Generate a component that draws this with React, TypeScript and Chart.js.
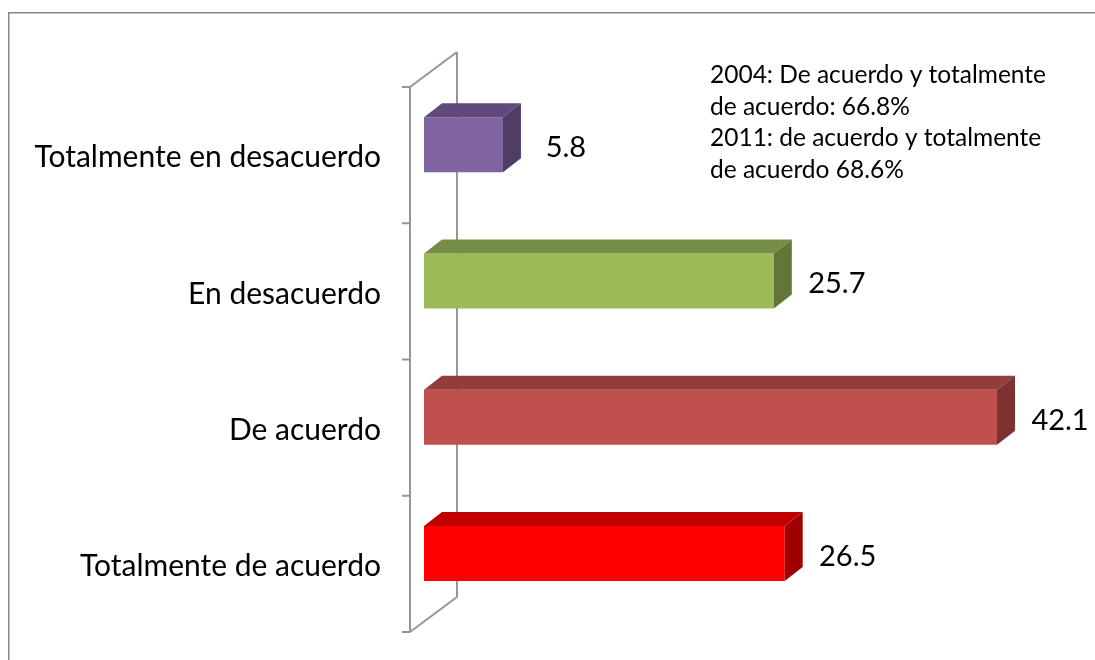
import React, { useEffect, useRef } from "react";
import { Chart, registerables } from "chart.js";

Chart.register(...registerables);

const categories = ["Totalmente en desacuerdo", "En desacuerdo", "De acuerdo", "Totalmente de acuerdo"];
const values = [5.8, 25.7, 42.1, 26.5];
const frontColors = ["#8064A2", "#9BBB59", "#C0504D", "#FF0000"];
const topColors = ["#604A7B", "#758D44", "#923D3B", "#C00000"];
const sideColors = ["#4F3D66", "#627637", "#7B3230", "#A00000"];
const noteLines = [
  "2004: De acuerdo y totalmente",
  "de acuerdo: 66.8%",
  "2011: de acuerdo y totalmente",
  "de acuerdo 68.6%",
];

const FONT = "Lato, 'Open Sans', sans-serif";
const DX = 18;
const DY = -14;

const threeD = {
  id: "threeD",
  beforeDatasetsDraw(chart: any) {
    const ctx = chart.ctx;
    const { left: L, top: T, bottom: B } = chart.chartArea;
    ctx.save();
    ctx.strokeStyle = "#878787";
    ctx.lineWidth = 1.5;
    ctx.beginPath();
    ctx.moveTo(8.75, 700);
    ctx.lineTo(8.75, 12.75);
    ctx.lineTo(1200, 12.75);
    ctx.stroke();
    ctx.strokeStyle = "#969696";
    ctx.lineWidth = 2;
    const fx = L - 14, fT = T + 10.4, fB = B + 10.4;
    const bx = L + 33, bT = T - 24.6, bB = B - 24.6;
    ctx.beginPath();
    ctx.moveTo(fx, fT); ctx.lineTo(fx, fB);
    ctx.moveTo(bx, bT); ctx.lineTo(bx, bB);
    ctx.moveTo(fx, fT); ctx.lineTo(bx, bT);
    ctx.moveTo(fx, fB); ctx.lineTo(bx, bB);
    const n = categories.length;
    for (let i = 0; i <= n; i++) {
      const y = fT + (i * (fB - fT)) / n;
      ctx.moveTo(fx - 8, y); ctx.lineTo(fx, y);
    }
    ctx.stroke();
    ctx.restore();
  },
  afterDatasetsDraw(chart: any) {
    const ctx = chart.ctx;
    const meta = chart.getDatasetMeta(0);
    ctx.save();
    meta.data.forEach((bar: any, i: number) => {
      const { x, y, base, height } = bar.getProps(["x", "y", "base", "height"], true);
      const t = y - height / 2;
      const b = y + height / 2;
      ctx.fillStyle = topColors[i];
      ctx.beginPath();
      ctx.moveTo(base, t);
      ctx.lineTo(base + DX, t + DY);
      ctx.lineTo(x + DX, t + DY);
      ctx.lineTo(x, t);
      ctx.closePath();
      ctx.fill();
      ctx.fillStyle = sideColors[i];
      ctx.beginPath();
      ctx.moveTo(x, t);
      ctx.lineTo(x + DX, t + DY);
      ctx.lineTo(x + DX, b + DY);
      ctx.lineTo(x, b);
      ctx.closePath();
      ctx.fill();
      ctx.fillStyle = "#000";
      ctx.font = `29px ${FONT}`;
      ctx.textAlign = "center";
      ctx.textBaseline = "middle";
      ctx.fillText(String(values[i]), x + 63, y + 3);
    });
    ctx.font = `24.5px ${FONT}`;
    ctx.textAlign = "left";
    ctx.textBaseline = "middle";
    ctx.fillStyle = "#000";
    noteLines.forEach((s, k) => ctx.fillText(s, 710, 75 + k * 31.7));
    ctx.restore();
  },
};

export default function App() {
  const ref = useRef<HTMLCanvasElement>(null);
  useEffect(() => {
    const chart = new Chart(ref.current!, {
      type: "bar",
      data: {
        labels: categories,
        datasets: [
          {
            data: values,
            backgroundColor: frontColors,
            borderWidth: 0,
            categoryPercentage: 1,
            barPercentage: 0.404,
          },
        ],
      },
      options: {
        indexAxis: "y",
        animation: false,
        responsive: false,
        devicePixelRatio: 1,
        layout: { padding: { left: 0, right: 58.5, top: 76.6, bottom: 38.4 } },
        plugins: { legend: { display: false }, tooltip: { enabled: false } },
        scales: {
          x: { display: false, min: 0, max: 45 },
          y: {
            grid: { display: false, drawTicks: false },
            border: { display: false },
            ticks: {
              padding: 43,
              labelOffset: 13,
              color: "#000",
              font: { family: FONT, size: 30 },
            },
            afterFit: (scale: any) => {
              scale.width = 424;
              scale.paddingTop = 0;
              scale.paddingBottom = 0;
            },
          },
        },
      },
      plugins: [threeD],
    } as any);
    return () => chart.destroy();
  }, []);
  return (
    <div style={{ position: "fixed", left: 0, top: 0, width: 1095, height: 660, background: "#fff" }}>
      <canvas ref={ref} width={1095} height={660} style={{ display: "block" }} />
    </div>
  );
}
